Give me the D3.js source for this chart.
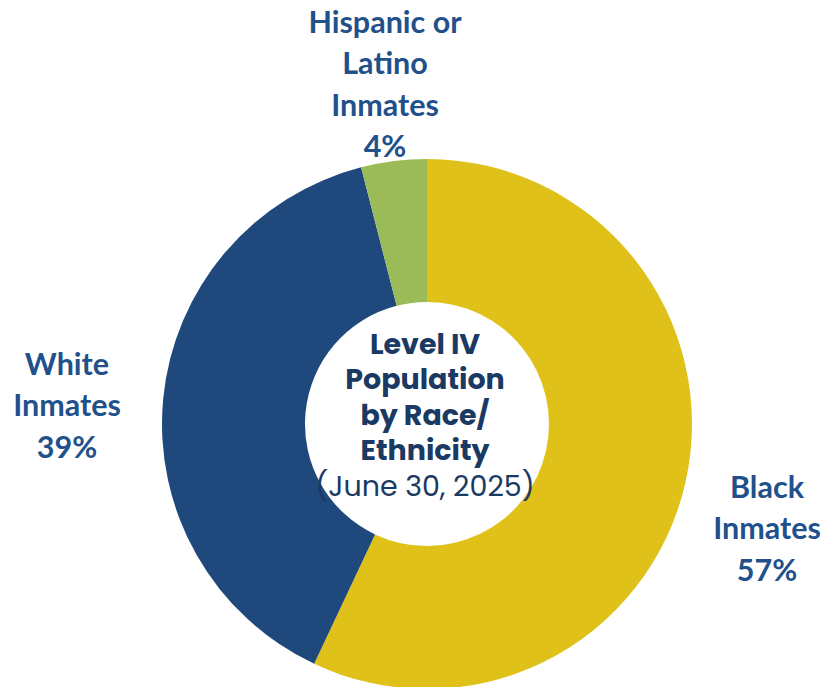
<!DOCTYPE html>
<html><head><meta charset="utf-8">
<script src="https://cdn.jsdelivr.net/npm/d3@7"></script>
<style>html,body{margin:0;padding:0;background:#fff;}svg{display:block;}</style>
</head><body>
<svg id="c" width="832" height="687"></svg>
<script>
const categories = ["Black Inmates", "White Inmates", "Hispanic or Latino Inmates"];
const values = [57, 39, 4];
const colors = ["#DFC119", "#1F497D", "#9BBB59"];
const labelLines = [["Black", "Inmates", "57%"], ["White", "Inmates", "39%"], ["Hispanic or", "Latino", "Inmates", "4%"]];
const titleLines = ["Level IV", "Population", "by Race/", "Ethnicity"];
const subtitle = "(June 30, 2025)";

const svg = d3.select("#c");
const cx = 427, cy = 424, R = 265, r = 122;
const g = svg.append("g").attr("transform", `translate(${cx},${cy})`);
const pie = d3.pie().sort(null).value(d => d)(values);
const arc = d3.arc().innerRadius(r).outerRadius(R);
g.selectAll("path").data(pie).join("path").attr("d", arc).attr("fill", (d, i) => colors[i]);

const labelPos = [[767, 487], [67, 364], [385, 22]];
const lh = 41.5;
labelLines.forEach((lines, i) => {
  const t = svg.append("text").attr("text-anchor", "middle")
    .attr("font-family", "Lato, 'Open Sans', sans-serif").attr("font-weight", 700)
    .attr("font-size", 30.5).attr("fill", "#21508A");
  lines.forEach((s, j) => t.append("tspan").attr("x", labelPos[i][0]).attr("y", labelPos[i][1] + j * lh).attr("dy", "0.35em").text(s));
});

const ct = svg.append("text").attr("text-anchor", "middle")
  .attr("font-family", "Poppins, Inter, sans-serif").attr("fill", "#1B3A63").attr("font-size", 28.5);
titleLines.forEach((s, j) => ct.append("tspan").attr("x", cx - 2).attr("y", 344 + j * 35.5).attr("dy", "0.35em").attr("font-weight", 700).text(s));
ct.append("tspan").attr("x", cx - 2).attr("y", 344 + 4 * 35.5).attr("dy", "0.35em").attr("font-weight", 400).text(subtitle);
</script>
</body></html>
